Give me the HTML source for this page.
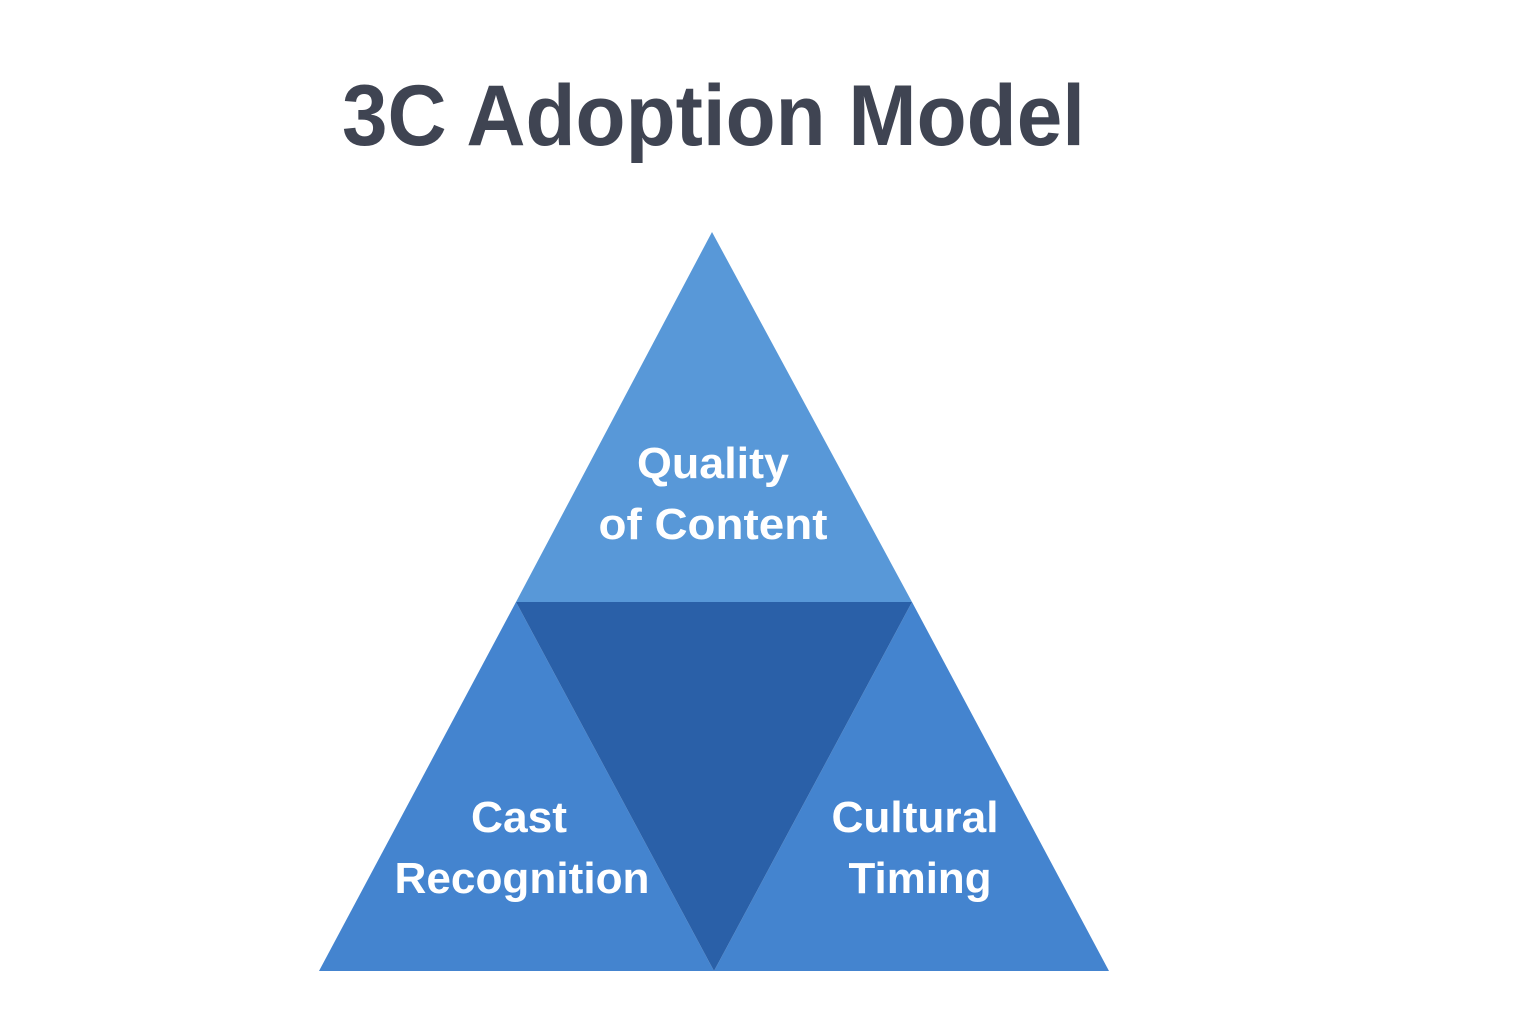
<!DOCTYPE html>
<html><head><meta charset="utf-8"><style>
html,body{margin:0;padding:0;background:#fff;}
svg{display:block;}
text{font-family:"Liberation Sans",sans-serif;}
</style></head><body>
<svg width="1536" height="1024" viewBox="0 0 1536 1024" xmlns="http://www.w3.org/2000/svg">
<rect width="1536" height="1024" fill="#ffffff"/>
<text x="342" y="145" font-size="86" font-weight="bold" fill="#3f4452" textLength="743" lengthAdjust="spacingAndGlyphs">3C Adoption Model</text>
<polygon points="712,232 912,602 516,602" fill="#5898d8"/>
<polygon points="516,602 714,971 319,971" fill="#4484cf"/>
<polygon points="912,602 1109,971 714,971" fill="#4484cf"/>
<polygon points="516,602 912,602 714,971" fill="#2a60a8"/>
<g fill="#ffffff" font-weight="bold" font-size="44" text-anchor="middle">
<text x="713" y="478" textLength="152" lengthAdjust="spacingAndGlyphs">Quality</text>
<text x="713" y="539" textLength="229" lengthAdjust="spacingAndGlyphs">of Content</text>
<text x="519" y="832" textLength="96" lengthAdjust="spacingAndGlyphs">Cast</text>
<text x="522" y="893" textLength="255" lengthAdjust="spacingAndGlyphs">Recognition</text>
<text x="915" y="832" textLength="167" lengthAdjust="spacingAndGlyphs">Cultural</text>
<text x="920" y="893" textLength="143" lengthAdjust="spacingAndGlyphs">Timing</text>
</g>
</svg>
</body></html>
